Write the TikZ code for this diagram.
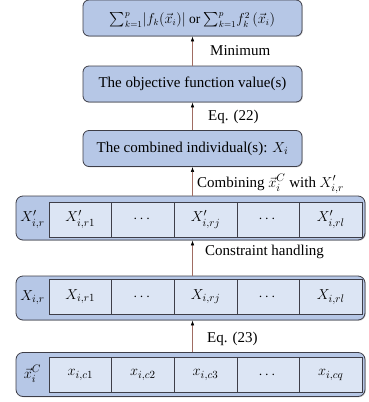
\documentclass[tikz,border=0pt]{standalone}
\usepackage{amsmath}
\usepackage{fontspec}
\setmainfont{Liberation Serif}
\usepackage{tikz}
\usetikzlibrary{arrows.meta, positioning, shadows}
\definecolor{boxblue}{RGB}{182,199,230}
\definecolor{cellblue}{RGB}{220,229,244}
\definecolor{edgegray}{RGB}{62,62,72}
\definecolor{arrbrown}{RGB}{160,108,98}
\tikzset{
  stage/.style={rectangle, draw=edgegray, fill=boxblue, minimum width=219pt,
    minimum height=36pt, rounded corners=6pt, line width=0.8pt,
    font=\fontsize{15}{17}\selectfont,
    drop shadow={shadow xshift=0.8pt, shadow yshift=-0.8pt, opacity=0.35}},
  rowbox/.style={rectangle, draw=edgegray, fill=boxblue, minimum width=349pt,
    minimum height=44pt, rounded corners=7pt, line width=0.8pt,
    drop shadow={shadow xshift=0.8pt, shadow yshift=-0.8pt, opacity=0.35}},
  cell/.style={rectangle, draw=edgegray, fill=cellblue, minimum width=62.6pt,
    minimum height=35pt, line width=0.6pt, font=\fontsize{15}{17}\selectfont},
  rowlbl/.style={font=\fontsize{15}{17}\selectfont, inner sep=0pt},
  arrow/.style={-{Latex[black, length=5pt, width=3.5pt]}, color=arrbrown, line width=0.6pt},
  elbl/.style={font=\fontsize{15}{17}\selectfont, anchor=west, inner sep=0pt}
}

\begin{document}
\begin{tikzpicture}[x=1pt, y=1pt]
  \useasboundingbox (0,0) rectangle (368,-402);

  % upper stages
  \node[stage, font=\fontsize{13.5}{16}\selectfont] (sumf) at (192.5,-18) {};
  \node[font=\fontsize{13.5}{16}\selectfont, inner sep=0pt] (sumtxt) at (192.5,-20)
    {$\sum_{k=1}^{p}\!|f_k(\vec{x}_i)|$ or $\sum_{k=1}^{p}\!f_k^{2}\,(\vec{x}_i)$};
  \node[stage] (objval) at (192.5,-84) {The objective function value(s)};
  \node[stage] (combined) at (192.5,-148.5) {The combined individual(s): $X_i$};

  % rows of variables
  \node[rowbox] (rowp) at (190.5,-218) {};
  \node[rowbox] (rowr) at (190.5,-298) {};
  \node[rowbox] (rowc) at (190.5,-374.5) {};

  \node[rowlbl] (lblp) at (32.5,-219.5) {$X'_{i,r}$};
  \node[rowlbl] (lblr) at (32.5,-298) {$X_{i,r}$};
  \node[rowlbl] (lblc) at (32.5,-374) {$\vec{x}^{C}_{i}$};

  \foreach \k/\t in {1/{X'_{i,r1}}, 2/{\cdots}, 3/{X'_{i,rj}}, 4/{\cdots}, 5/{X'_{i,rl}}}
    \node[cell] (p\k) at ({49+62.6*(\k-0.5)},-219.5) {$\t$};
  \foreach \k/\t in {1/{X_{i,r1}}, 2/{\cdots}, 3/{X_{i,rj}}, 4/{\cdots}, 5/{X_{i,rl}}}
    \node[cell] (r\k) at ({49+62.6*(\k-0.5)},-297) {$\t$};
  \foreach \k/\t in {1/{x_{i,c1}}, 2/{x_{i,c2}}, 3/{x_{i,c3}}, 4/{\cdots}, 5/{x_{i,cq}}}
    \node[cell] (c\k) at ({49+62.6*(\k-0.5)},-375) {$\t$};

  % connectors
  \draw[arrow] (objval.north) -- (sumf.south);
  \draw[arrow] (combined.north) -- (objval.south);
  \draw[arrow] (rowp.north -| combined.south) -- (combined.south);
  \draw[arrow] (rowr.north -| combined.south) -- (rowp.south -| combined.south);
  \draw[arrow] (rowc.north -| combined.south) -- (rowr.south -| combined.south);

  \node[elbl] (minlbl) at (210,-51) {Minimum};
  \node[elbl] (eq22) at (208,-117) {Eq. (22)};
  \node[elbl] (comblbl) at (197,-184) {Combining $\vec{x}^{C}_{i}$ with $X'_{i,r}$};
  \node[elbl] (conlbl) at (205,-252) {Constraint handling};
  \node[elbl] (eq23) at (207,-339) {Eq. (23)};
\end{tikzpicture}
\end{document}
